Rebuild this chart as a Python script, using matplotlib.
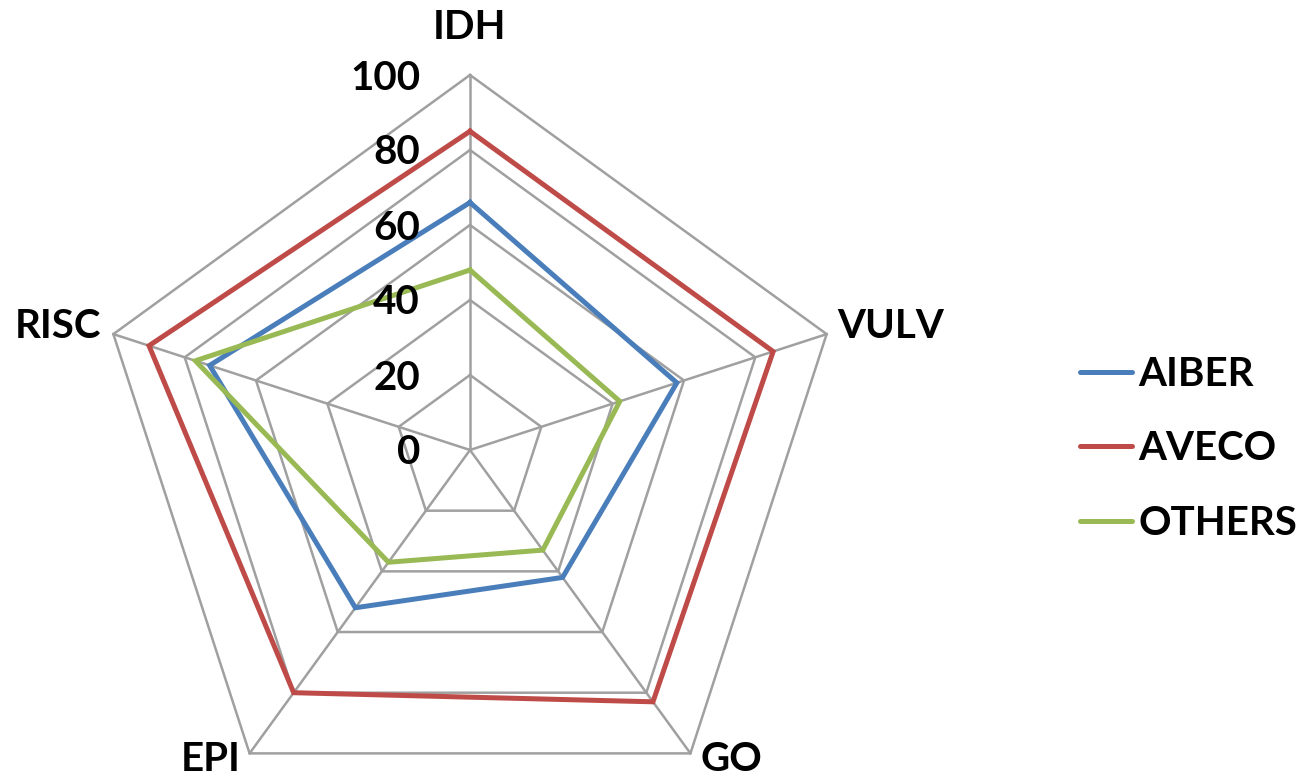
import numpy as np
import matplotlib
matplotlib.use("Agg")
import matplotlib.pyplot as plt

# Criteria on the radar axes, clockwise from the top
categories = ["IDH", "VULV", "GO", "EPI", "RISC"]

# Scores per group (0-100 scale)
aiber = [66, 58, 42, 52, 73]
aveco = [85, 85, 83, 80, 90]
others = [48, 42, 33, 37, 77]

series_names = ["AIBER", "AVECO", "OTHERS"]
series_colors = ["#4a7ebb", "#be4b48", "#98b954"]

grid_levels = [20, 40, 60, 80, 100]
tick_values = [0, 20, 40, 60, 80, 100]

plt.rcParams["font.family"] = ["Lato", "DejaVu Sans"]
WEIGHT = "bold"

W, H, DPI = 1303, 780, 100
fig = plt.figure(figsize=(W / DPI, H / DPI), dpi=DPI)

cx, cy, R = 470, 450, 375  # pixel centre and outer radius of the web
ax = fig.add_axes([(cx - R) / W, (H - cy - R) / H, 2 * R / W, 2 * R / H],
                  projection="polar")
ax.set_theta_offset(np.pi / 2)
ax.set_theta_direction(-1)
ax.set_ylim(0, 100)
ax.grid(False)
ax.spines["polar"].set_visible(False)
ax.set_xticks([])
ax.set_yticks([])
ax.patch.set_visible(False)

n = len(categories)
angles = np.linspace(0, 2 * np.pi, n, endpoint=False)
closed = np.append(angles, angles[0])

grid_kw = dict(color="#a0a0a0", lw=1.8, zorder=1, clip_on=False)
for lvl in grid_levels:
    ax.plot(closed, [lvl] * (n + 1), **grid_kw)
for a in angles:
    ax.plot([a, a], [0, 100], **grid_kw)

for name, vals, col in zip(series_names, [aiber, aveco, others], series_colors):
    ax.plot(closed, list(vals) + [vals[0]], color=col, lw=3.6, label=name,
            zorder=3, clip_on=False, solid_joinstyle="miter")

fs = 29
# radial value labels beside the top spoke
for v in tick_values:
    ax.annotate(str(v), xy=(0, v), xytext=(-50, -3), textcoords="offset pixels",
                ha="right", va="center", fontsize=fs, fontweight=WEIGHT,
                annotation_clip=False)

# category labels around the web
label_offsets = {
    "IDH": ((0, 29), "center", "bottom"),
    "VULV": ((11, 8), "left", "center"),
    "GO": ((10, -25), "left", "bottom"),
    "EPI": ((-9, -25), "right", "bottom"),
    "RISC": ((-12, 8), "right", "center"),
}
for a, cat in zip(angles, categories):
    off, ha, va = label_offsets[cat]
    ax.annotate(cat, xy=(a, 100), xytext=off, textcoords="offset pixels",
                ha=ha, va=va, fontsize=fs, fontweight=WEIGHT,
                annotation_clip=False)

leg = fig.legend(loc="center left", bbox_to_anchor=(1080 / W, (H - 449) / H),
                 frameon=False, handlelength=1.29, handletextpad=0.15,
                 labelspacing=0.935, borderpad=0, borderaxespad=0,
                 prop={"weight": WEIGHT, "size": fs})
for line in leg.get_lines():
    line.set_linewidth(3.6)
    line.set_solid_capstyle("round")

fig.savefig("out.png", dpi=DPI)
